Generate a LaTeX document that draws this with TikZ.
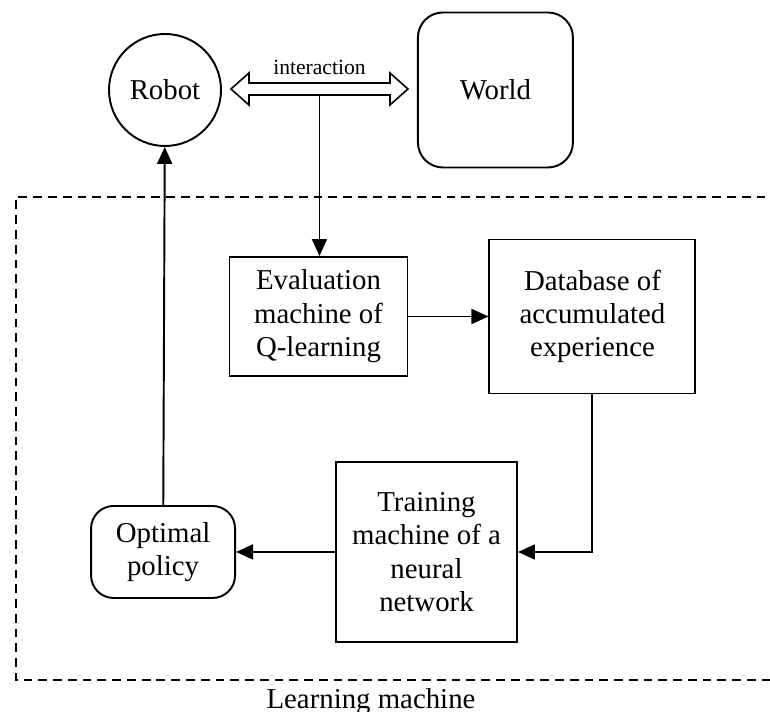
\documentclass[tikz,border=0pt]{standalone}
\usepackage{fontspec}
\setmainfont{Liberation Serif}
\usetikzlibrary{arrows.meta,positioning,calc}

\begin{document}
\begin{tikzpicture}[node distance=1.6cm,
  every node/.style={font=\fontsize{16.4}{19}\selectfont},
  box/.style={draw, line width=1.1pt, align=center, inner sep=0pt},
  rbox/.style={box, rounded corners=0.45cm},
  arr/.style={-{Triangle[length=0.34cm, width=0.3cm]}, line width=1.1pt}]
  \useasboundingbox (0,0) rectangle (15.4,14.24);
  % robot and world
  \node[draw, circle, line width=1.1pt, minimum size=2.24cm, inner sep=0pt] (robot) at (3.3,12.44) {Robot};
  \node[rbox, rounded corners=0.5cm, minimum width=3.1cm, minimum height=3.1cm, right=3.9cm of robot] (world) {World};
  % interaction arrow
  \coordinate (lt) at ($(robot.east)+(0.18,0.02)$);
  \coordinate (rt) at ($(world.west)+(-0.18,0.02)$);
  \coordinate (tap) at ($(lt)!0.5!(rt)+(0,-0.12)$);
  \draw[line width=0.9pt, line join=miter] (lt) -- ++(0.36,0.32) |- ($(rt)+(-0.36,0.12)$) -- ++(0,0.2) -- (rt)
    -- ++(-0.36,-0.32) |- ($(lt)+(0.36,-0.12)$) -- ++(0,-0.2) -- cycle;
  \node[font=\fontsize{12.3}{14}\selectfont, anchor=south, inner sep=0pt] (intlabel) at ($(lt)!0.5!(rt)+(0,0.28)$) {interaction};
  % learning machine
  \node[box, minimum width=3.56cm, minimum height=2.38cm] (eval) at (6.37,7.91) {Evaluation\\machine of\\Q-learning};
  \node[box, minimum width=4.12cm, minimum height=3.08cm, right=1.6cm of eval] (db) {Database of\\accumulated\\experience};
  \node[box, minimum width=3.62cm, minimum height=3.6cm] (train) at (8.53,3.2) {Training\\machine of a\\neural\\network};
  \node[rbox, minimum width=2.88cm, minimum height=1.84cm, left=1.98cm of train] (policy) {Optimal\\policy};
  \draw[dashed, dash pattern=on 5pt off 3.4pt, line width=0.6pt] (16,0.64) -| (0.32,10.3) -- (16,10.3);
  \node[anchor=north, inner sep=0pt] (lm) at (7.42,0.48) {Learning machine};
  % connectors
  \draw[arr] (tap) -- (tap |- eval.north);
  \draw[arr] (eval) -- (db);
  \draw[arr] (db.south) |- (train.east);
  \draw[arr] (train) -- (policy);
  \draw[arr] (policy) -- (robot);
\end{tikzpicture}
\end{document}
